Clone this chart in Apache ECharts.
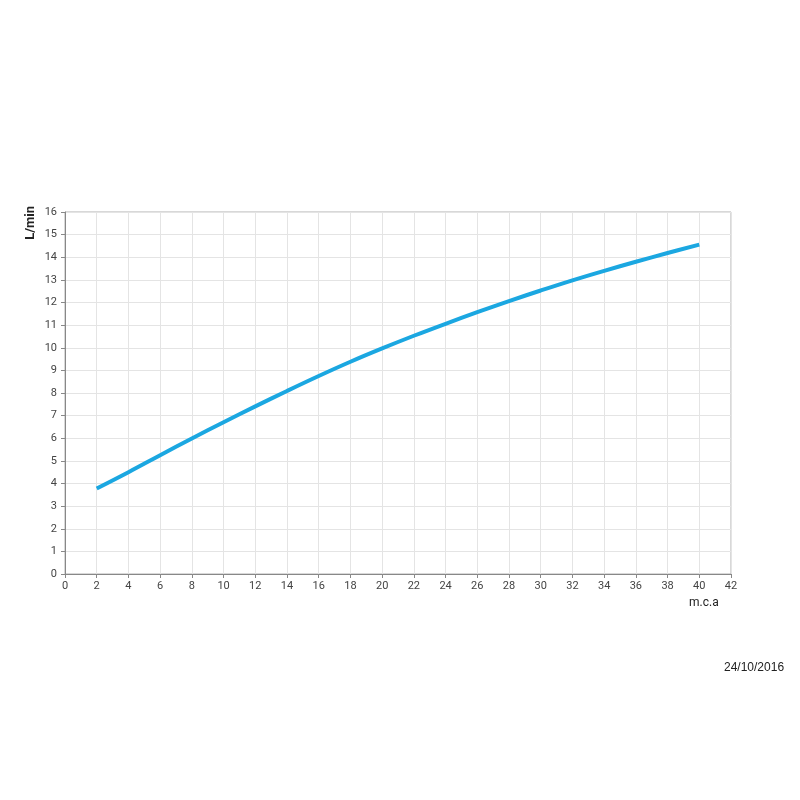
<!DOCTYPE html>
<html><head><meta charset="utf-8">
<script src="https://cdn.jsdelivr.net/npm/echarts@6/dist/echarts.min.js"></script>
<style>html,body{margin:0;padding:0;background:#fff}#c{width:800px;height:800px}</style>
</head><body><div id="c"></div>
<script>
var pressure = [2,4,6,8,10,12,14,16,18,20,22,24,26,28,30,32,34,36,38,40];
var flow = [3.78,4.50,5.25,5.99,6.71,7.41,8.09,8.75,9.38,9.97,10.53,11.06,11.57,12.06,12.53,12.98,13.40,13.80,14.19,14.56];
var xLabel = 'm.c.a';
var yLabel = 'L/min';
var dateText = '24/10/2016';

var font = '"Roboto", sans-serif';
var chart = echarts.init(document.getElementById('c'), null, {renderer:'canvas'});
chart.setOption({
  animation: false,
  backgroundColor: '#fff',
  grid: {left: 65, right: 69, top: 212, bottom: 226, show: true, borderColor: '#b0b0b0', borderWidth: 1, backgroundColor: 'transparent'},
  xAxis: {
    type: 'value', min: 0, max: 42, interval: 2,
    axisLine: {show: true, lineStyle: {color: '#888', width: 1}},
    axisTick: {show: true, length: 4, lineStyle: {color: '#888'}},
    axisLabel: {color: '#444', fontSize: 11, fontFamily: font, margin: 7},
    splitLine: {show: true, lineStyle: {color: '#e4e4e4', width: 1}}
  },
  yAxis: {
    type: 'value', min: 0, max: 16, interval: 1,
    axisLine: {show: true, lineStyle: {color: '#888', width: 1}},
    axisTick: {show: true, length: 4, lineStyle: {color: '#888'}},
    axisLabel: {color: '#444', fontSize: 11, fontFamily: font, margin: 8},
    splitLine: {show: true, lineStyle: {color: '#e4e4e4', width: 1}}
  },
  series: [{
    type: 'line', smooth: 0.4, symbol: 'none',
    data: pressure.map(function(p, i){ return [p, flow[i]]; }),
    lineStyle: {color: '#1ba7e1', width: 4, cap: 'butt'}
  }],
  graphic: [
    {type: 'text', left: 24, top: 206, rotation: Math.PI/2, style: {text: yLabel, fill: '#222', font: 'bold 13px ' + font}},
    {type: 'text', x: 689, y: 597, style: {text: xLabel, fill: '#222', font: '12px ' + font}},
    {type: 'text', x: 724, y: 662, style: {text: dateText, fill: '#222', font: '12px "Liberation Sans", sans-serif'}}
  ]
});
</script></body></html>
